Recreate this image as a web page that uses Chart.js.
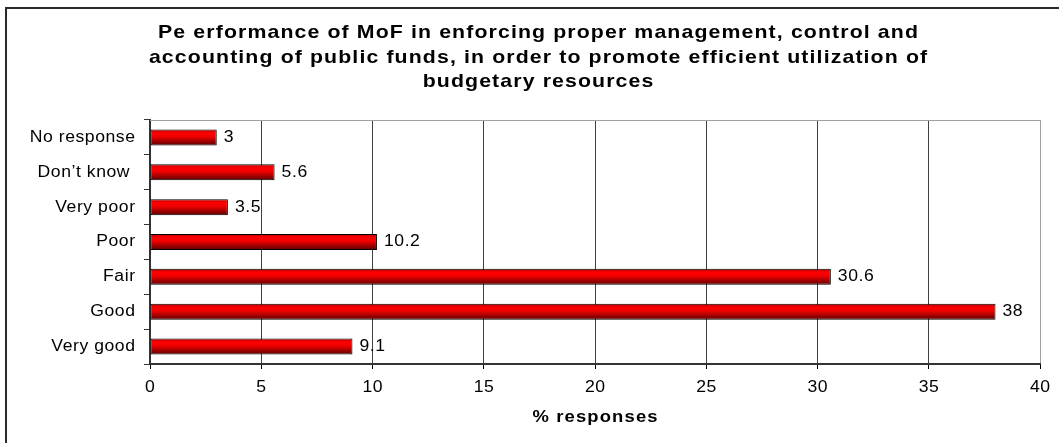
<!DOCTYPE html>
<html>
<head>
<meta charset="utf-8">
<script src="https://cdn.jsdelivr.net/npm/chart.js@4/dist/chart.umd.min.js"></script>
<style>
  html, body { margin: 0; padding: 0; background: #ffffff; }
  canvas { display: block; }
</style>
</head>
<body>
<canvas id="c" width="1059" height="443"></canvas>
<script>
// ---- data ----
const categories = ["No response", "Don\u2019t know ", "Very poor", "Poor", "Fair", "Good", "Very good"];
const responses = [3, 5.6, 3.5, 10.2, 30.6, 38, 9.1];
const xTicks = [0, 5, 10, 15, 20, 25, 30, 35, 40];
const titleLines = [
  "Pe erformance of MoF in enforcing proper management, control and",
  "accounting of public funds, in order to promote efficient utilization of",
  "budgetary resources"
];
const xTitle = "% responses";

const FONT = "'Liberation Sans', Arial, Helvetica, sans-serif";

// draw text horizontally stretched (as in the reference rendering)
function drawText(ctx, text, x, y, font, sx, ls, align, baseline) {
  ctx.save();
  ctx.font = font;
  try { ctx.letterSpacing = ls + 'px'; } catch (e) {}
  ctx.textAlign = 'left';
  ctx.textBaseline = baseline || 'middle';
  const w = (ctx.measureText(text).width - ls) * sx;
  let x0 = x;
  if (align === 'center') x0 = x - w / 2;
  else if (align === 'right') x0 = x - w;
  ctx.translate(x0, y);
  ctx.scale(sx, 1);
  ctx.fillStyle = '#000';
  ctx.fillText(text, 0, 0);
  ctx.restore();
}

const decor = {
  id: 'decor',
  beforeDraw(chart) {
    const ctx = chart.ctx;
    ctx.save();
    ctx.fillStyle = '#ffffff';
    ctx.fillRect(0, 0, chart.width, chart.height);
    // outer frame (top and left only, as cropped in the reference)
    ctx.fillStyle = '#2a2a2a';
    ctx.fillRect(5, 7, chart.width - 5, 2);
    ctx.fillRect(5, 7, 2, chart.height - 7);
    ctx.restore();
    // chart title
    const base = [38, 62.5, 87];
    titleLines.forEach((t, i) =>
      drawText(ctx, t, 538, base[i], 'bold 19px ' + FONT, 1.12, 1.0, 'center', 'alphabetic'));
  },
  beforeDatasetsDraw(chart) {
    const a = chart.chartArea, ctx = chart.ctx;
    ctx.save();
    ctx.strokeStyle = '#a0a0a0';
    ctx.lineWidth = 1;
    ctx.beginPath();
    ctx.moveTo(a.left, a.top + 0.5);
    ctx.lineTo(a.right, a.top + 0.5);
    ctx.stroke();
    ctx.restore();
  },
  afterDraw(chart) {
    const ctx = chart.ctx;
    const a = chart.chartArea;
    const xs = chart.scales.x, ys = chart.scales.y;
    // y category labels
    ys.ticks.forEach((t, i) => {
      drawText(ctx, categories[i], 135, ys.getPixelForTick(i), '16px ' + FONT, 1.1, 0.5, 'right', 'middle');
    });
    // x tick labels
    xs.ticks.forEach((t, i) => {
      drawText(ctx, String(t.value), xs.getPixelForTick(i), 388, '16px ' + FONT, 1.1, 0.5, 'center', 'middle');
    });
    // x axis title
    drawText(ctx, xTitle, (a.left + a.right) / 2, 418, 'bold 16px ' + FONT, 1.15, 1.0, 'center', 'middle');
    // value labels
    const meta = chart.getDatasetMeta(0);
    meta.data.forEach((el, i) => {
      drawText(ctx, String(responses[i]), el.x + 7, el.y, '16px ' + FONT, 1.1, 0.5, 'left', 'middle');
    });
  }
};

function barGradient(c) {
  const chart = c.chart;
  const ys = chart.scales && chart.scales.y;
  if (!ys || c.type !== 'data' || !chart.chartArea) return '#e00000';
  const yc = ys.getPixelForValue(c.dataIndex);
  const h = 16;
  const g = chart.ctx.createLinearGradient(0, yc - h / 2, 0, yc + h / 2);
  g.addColorStop(0, '#b00000');
  g.addColorStop(0.22, '#ff0000');
  g.addColorStop(0.45, '#f00000');
  g.addColorStop(1, '#5a0000');
  return g;
}

new Chart(document.getElementById('c'), {
  type: 'bar',
  data: {
    labels: categories,
    datasets: [{
      data: responses,
      backgroundColor: barGradient,
      borderColor: '#000000',
      borderWidth: 1,
      borderSkipped: false,
      barPercentage: 0.46,
      categoryPercentage: 1.0
    }]
  },
  options: {
    indexAxis: 'y',
    responsive: false,
    animation: false,
    devicePixelRatio: 1,
    layout: { padding: { left: 0, right: 19, top: 120, bottom: 0 } },
    plugins: { legend: { display: false }, title: { display: false }, tooltip: { enabled: false } },
    scales: {
      x: {
        type: 'linear',
        min: 0,
        max: 40,
        afterBuildTicks(scale) { scale.ticks = xTicks.map(v => ({ value: v })); },
        afterFit(scale) { scale.height = 79; },
        ticks: { display: false },
        grid: {
          color: (c) => (c.tick && c.tick.value === 40 ? '#a0a0a0' : '#404040'),
          tickColor: '#000',
          tickLength: 5,
          lineWidth: 1
        },
        border: { color: '#333333', width: 2 }
      },
      y: {
        type: 'category',
        afterFit(scale) { scale.width = 150; },
        ticks: { display: false },
        grid: { drawOnChartArea: false, drawTicks: true, tickLength: 6, color: '#333', offset: true },
        border: { color: '#333333', width: 2 }
      }
    }
  },
  plugins: [decor]
});
</script>
</body>
</html>
